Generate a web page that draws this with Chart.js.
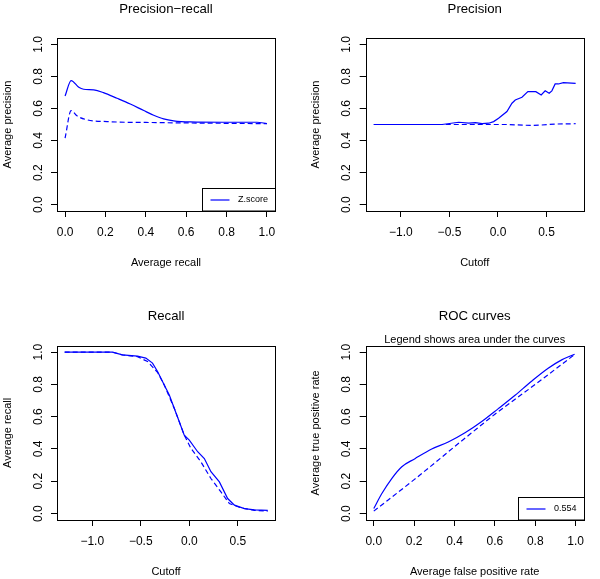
<!DOCTYPE html>
<html><head><meta charset="utf-8">
<script src="https://cdn.jsdelivr.net/npm/chart.js@4.4.1/dist/chart.umd.min.js"></script>
<style>
html,body{margin:0;padding:0;background:#fff;}
#wrap{position:relative;width:600px;height:579px;overflow:hidden;}
canvas{position:absolute;}
</style></head><body>
<div id="wrap">
<canvas id="c1" width="300" height="290" style="left:0;top:0"></canvas>
<canvas id="c2" width="300" height="290" style="left:300px;top:0"></canvas>
<canvas id="c3" width="300" height="289" style="left:0;top:290px"></canvas>
<canvas id="c4" width="300" height="289" style="left:300px;top:290px"></canvas>
</div>
<script>
// ---------- data ----------
// Panel 1: precision-recall
const prRecall      = [0.0, 0.03, 0.068, 0.092, 0.142, 0.19, 0.257, 0.323, 0.39, 0.439, 0.488, 0.538, 0.62, 0.786, 0.95, 1.0];
const prPrecision   = [0.678, 0.774, 0.732, 0.72, 0.716, 0.699, 0.664, 0.628, 0.587, 0.558, 0.535, 0.523, 0.516, 0.514, 0.514, 0.506];
const prRecallRand  = [0.0, 0.03, 0.059, 0.109, 0.208, 0.455, 0.75, 1.0];
const prPrecRand    = [0.415, 0.587, 0.554, 0.529, 0.518, 0.512, 0.508, 0.505];
// Panel 2: precision vs cutoff
const precCutoff    = [-1.28, -0.576, -0.405, -0.302, -0.233, -0.164, -0.096, -0.045, 0.006, 0.092, 0.144, 0.178, 0.247, 0.308, 0.39, 0.445, 0.486, 0.527, 0.555, 0.589, 0.623, 0.674, 0.80];
const precValue     = [0.5, 0.5, 0.514, 0.508, 0.512, 0.506, 0.508, 0.518, 0.539, 0.581, 0.633, 0.653, 0.67, 0.705, 0.705, 0.684, 0.71, 0.695, 0.71, 0.753, 0.753, 0.761, 0.757];
const precCutoffRand= [-1.28, -0.5, -0.2, 0.1, 0.335, 0.45, 0.6, 0.8];
const precRand      = [0.5, 0.5, 0.5, 0.5, 0.494, 0.497, 0.503, 0.505];
// Panel 3: recall vs cutoff
const recCutoff     = [-1.284, -0.792, -0.689, -0.534, -0.448, -0.379, -0.327, -0.258, -0.206, -0.155, -0.103, -0.052, 0.0, 0.086, 0.155, 0.223, 0.31, 0.395, 0.465, 0.568, 0.671, 0.808];
const recValue      = [1.0, 1.0, 0.983, 0.975, 0.963, 0.932, 0.88, 0.797, 0.735, 0.652, 0.569, 0.486, 0.455, 0.383, 0.341, 0.259, 0.196, 0.093, 0.052, 0.031, 0.023, 0.02];
const recCutoffRand = [-1.284, -0.792, -0.689, -0.534, -0.43, -0.327, -0.258, -0.155, -0.052, 0.017, 0.12, 0.223, 0.326, 0.413, 0.533, 0.671, 0.808];
const recRand       = [1.0, 1.0, 0.983, 0.972, 0.942, 0.875, 0.797, 0.652, 0.486, 0.404, 0.32, 0.217, 0.134, 0.062, 0.035, 0.02, 0.015];
// Panel 4: ROC
const rocFpr        = [0.0, 0.04, 0.089, 0.139, 0.204, 0.287, 0.369, 0.452, 0.535, 0.617, 0.7, 0.782, 0.864, 0.931, 0.995];
const rocTpr        = [0.031, 0.124, 0.217, 0.29, 0.34, 0.4, 0.443, 0.5, 0.57, 0.65, 0.733, 0.82, 0.9, 0.952, 0.987];
const rocFprRand    = [0.0, 0.2, 0.45, 0.6, 0.8, 1.0];
const rocTprRand    = [0.015, 0.21, 0.465, 0.615, 0.8, 0.99];
// tick values
const unitTicks   = [0, 0.2, 0.4, 0.6, 0.8, 1.0];
const cutoffTicks = [-1.0, -0.5, 0.0, 0.5];
// legend labels
const legendPR  = 'Z.score';
const legendROC = '0.554';

// ---------- helpers ----------
const FONT = "'Liberation Sans', Arial, sans-serif";
const pts = (xs, ys) => xs.map((x, i) => ({x, y: ys[i]}));
const fmt = v => v.toFixed(1).replace('-', '\u2212');

const framePlugin = {
  id: 'frame',
  afterDraw(chart, args, o) {
    const {ctx, chartArea: a} = chart;
    ctx.save();
    ctx.strokeStyle = '#000';
    ctx.lineWidth = 1;
    ctx.strokeRect(Math.round(a.left) + 0.5, Math.round(a.top) + 0.5,
                   Math.round(a.right - a.left), Math.round(a.bottom - a.top));
    if (o && o.legend) {
      ctx.font = '9px ' + FONT;
      const tw = ctx.measureText(o.legend).width;
      const w = tw + 43, h = 23;
      const l = Math.round(a.right - w) + 0.5, t = Math.round(a.bottom - h) + 0.5;
      ctx.fillStyle = '#fff';
      ctx.fillRect(l, t, Math.round(a.right) - l, Math.round(a.bottom) - t);
      ctx.strokeRect(l, t, Math.round(a.right) - l + 0.5, Math.round(a.bottom) - t);
      const cy = t + h / 2;
      ctx.strokeStyle = 'blue';
      ctx.lineWidth = 1.2;
      ctx.beginPath(); ctx.moveTo(l + 8, cy); ctx.lineTo(l + 27, cy); ctx.stroke();
      ctx.fillStyle = '#000';
      ctx.textBaseline = 'middle';
      ctx.textAlign = 'left';
      ctx.fillText(o.legend, l + 35.5, cy);
    }
    ctx.restore();
  }
};

function axis(cfg) {
  return {
    type: 'linear',
    min: cfg.min, max: cfg.max,
    afterBuildTicks: s => { s.ticks = cfg.ticks.map(v => ({value: v})); },
    afterFit: cfg.fit,
    ticks: Object.assign({
      callback: v => fmt(v), font: {family: FONT, size: 12}, color: '#000',
      padding: 8, autoSkip: false
    }, cfg.tickExtra || {}),
    grid: {drawOnChartArea: false, drawTicks: true, tickLength: 6, color: '#000', lineWidth: 1},
    border: {display: false},
    title: {display: true, text: cfg.title, color: '#000', font: {family: FONT, size: 11},
            padding: cfg.titlePad}
  };
}

function makePanel(id, p) {
  const datasets = p.series.map(s => ({
    data: s.data, borderColor: 'blue', borderWidth: 1.2, pointRadius: 0,
    borderDash: s.dash ? [5, 3] : [], fill: false,
    tension: p.smooth ? 0.4 : 0, cubicInterpolationMode: p.smooth ? 'monotone' : 'default'
  }));
  const plugins = {
    legend: {display: false}, tooltip: {enabled: false},
    title: {display: true, text: p.title, fullSize: false, color: '#000',
            font: {family: FONT, size: 13.2, weight: 'normal', lineHeight: 1.2},
            padding: p.titlePad},
    frame: {legend: p.legend || null}
  };
  if (p.subtitle) {
    plugins.subtitle = {display: true, text: p.subtitle, fullSize: false, color: '#000',
      font: {family: FONT, size: 11, weight: 'normal', lineHeight: 1.0}, padding: {top: 0, bottom: 0}};
  }
  return new Chart(document.getElementById(id), {
    type: 'line',
    data: {datasets},
    options: {
      responsive: false, animation: false, devicePixelRatio: 1,
      layout: {padding: p.layout},
      plugins,
      scales: {
        x: axis({min: p.xmin, max: p.xmax, ticks: p.xticks, title: p.xtitle,
                 titlePad: {top: 0, bottom: p.xTitlePad}, fit: s => { s.height = 59; }}),
        y: axis({min: -0.04, max: 1.04, ticks: unitTicks, title: p.ytitle,
                 titlePad: {top: 0.9, bottom: 0}, fit: s => { s.width = 57; },
                 tickExtra: {minRotation: 90, maxRotation: 90, crossAlign: 'center', padding: 4.4}})
      }
    },
    plugins: [framePlugin]
  });
}

const cutMin = -1.363, cutMax = 0.883;

makePanel('c1', {
  title: 'Precision\u2212recall', titlePad: {top: 1.08, bottom: 21.08},
  layout: {left: 0, right: 25, top: 0, bottom: 20},
  xmin: -0.04, xmax: 1.04, xticks: unitTicks, xtitle: 'Average recall', xTitlePad: 0.4,
  ytitle: 'Average precision', smooth: true, legend: legendPR,
  series: [{data: pts(prRecall, prPrecision)}, {data: pts(prRecallRand, prPrecRand), dash: true}]
});
makePanel('c2', {
  title: 'Precision', titlePad: {top: 1.08, bottom: 21.08},
  layout: {left: 8.7, right: 16.3, top: 0, bottom: 20},
  xmin: cutMin, xmax: cutMax, xticks: cutoffTicks, xtitle: 'Cutoff', xTitlePad: 0.4,
  ytitle: 'Average precision', smooth: false,
  series: [{data: pts(precCutoff, precValue)}, {data: pts(precCutoffRand, precRand), dash: true}]
});
makePanel('c3', {
  title: 'Recall', titlePad: {top: 18.78, bottom: 21.08},
  layout: {left: 0, right: 25, top: 0, bottom: 0},
  xmin: cutMin, xmax: cutMax, xticks: cutoffTicks, xtitle: 'Cutoff', xTitlePad: 0.7,
  ytitle: 'Average recall', smooth: false,
  series: [{data: pts(recCutoff, recValue)}, {data: pts(recCutoffRand, recRand), dash: true}]
});
makePanel('c4', {
  title: 'ROC curves', subtitle: 'Legend shows area under the curves',
  titlePad: {top: 18.78, bottom: 10.08},
  layout: {left: 8.7, right: 16.3, top: 0, bottom: 0},
  xmin: -0.04, xmax: 1.04, xticks: unitTicks, xtitle: 'Average false positive rate', xTitlePad: 0.7,
  ytitle: 'Average true positive rate', smooth: true, legend: legendROC,
  series: [{data: pts(rocFpr, rocTpr)}, {data: pts(rocFprRand, rocTprRand), dash: true}]
});
</script>
</body></html>
